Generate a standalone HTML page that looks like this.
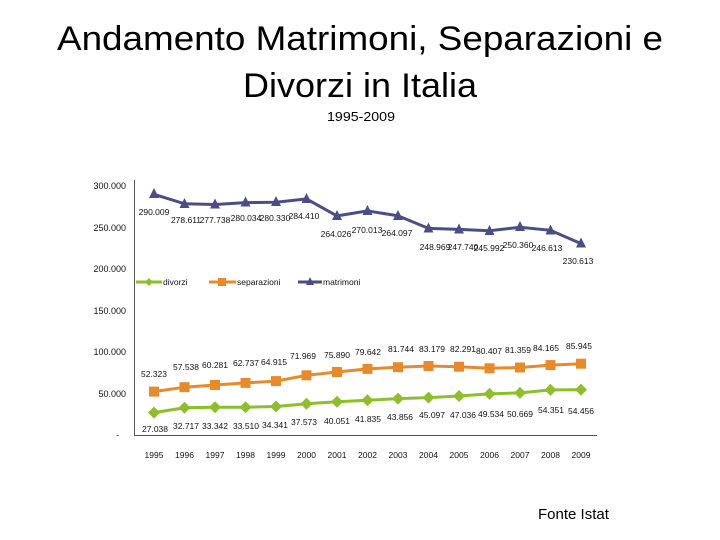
<!DOCTYPE html>
<html><head><meta charset="utf-8"><style>
html,body{margin:0;padding:0;background:#fff;}
svg{display:block;}
</style></head><body>
<svg width="720" height="540" viewBox="0 0 720 540" xmlns="http://www.w3.org/2000/svg" font-family="Liberation Sans, sans-serif">
<text x="360" y="50" font-size="34" text-anchor="middle" textLength="606" lengthAdjust="spacingAndGlyphs" fill="#000">Andamento Matrimoni, Separazioni e</text>
<text x="360" y="97" font-size="34" text-anchor="middle" textLength="234" lengthAdjust="spacingAndGlyphs" fill="#000">Divorzi in Italia</text>
<text x="361" y="121" font-size="13" text-anchor="middle" textLength="68" lengthAdjust="spacingAndGlyphs" fill="#000">1995-2009</text>
<text x="538" y="519" font-size="15" fill="#000">Fonte Istat</text>

<!-- axes -->
<line x1="134.5" y1="180" x2="134.5" y2="435" stroke="#555" stroke-width="1"/>
<line x1="134" y1="435.5" x2="597" y2="435.5" stroke="#555" stroke-width="1"/>
<g font-size="9" fill="#111" text-anchor="end">
<text x="126" y="189">300.000</text>
<text x="126" y="231">250.000</text>
<text x="126" y="272">200.000</text>
<text x="126" y="314">150.000</text>
<text x="126" y="355">100.000</text>
<text x="126" y="397">50.000</text>
<text x="119" y="438">-</text>
</g>
<g font-size="8.5" fill="#111" text-anchor="middle">
<text x="154" y="458">1995</text><text x="184.5" y="458">1996</text><text x="215" y="458">1997</text><text x="245.5" y="458">1998</text><text x="276" y="458">1999</text><text x="306.5" y="458">2000</text><text x="337" y="458">2001</text><text x="367.5" y="458">2002</text><text x="398" y="458">2003</text><text x="428.5" y="458">2004</text><text x="459" y="458">2005</text><text x="489.5" y="458">2006</text><text x="520" y="458">2007</text><text x="550.5" y="458">2008</text><text x="581" y="458">2009</text>
</g>

<!-- matrimoni -->
<polyline fill="none" stroke="#4b4e86" stroke-width="3" points="154,194.3 184.5,203.8 215,204.5 245.5,202.6 276,202.3 306.5,198.9 337,215.9 367.5,210.9 398,215.8 428.5,228.4 459,229.4 489.5,230.8 520,227.2 550.5,230.3 581,243.6"/>
<g fill="#4b4e86">
<polygon points="154,188 149,198 159,198"/><polygon points="184.5,198 179.5,208 189.5,208"/><polygon points="215,198.5 210,208.5 220,208.5"/><polygon points="245.5,196.5 240.5,206.5 250.5,206.5"/><polygon points="276,196 271,206 281,206"/><polygon points="306.5,193 301.5,203 311.5,203"/><polygon points="337,210 332,220 342,220"/><polygon points="367.5,205 362.5,215 372.5,215"/><polygon points="398,210 393,220 403,220"/><polygon points="428.5,222.5 423.5,232.5 433.5,232.5"/><polygon points="459,223.5 454,233.5 464,233.5"/><polygon points="489.5,225 484.5,235 494.5,235"/><polygon points="520,221 515,231 525,231"/><polygon points="550.5,224.5 545.5,234.5 555.5,234.5"/><polygon points="581,237.5 576,247.5 586,247.5"/>
</g>
<g font-size="8.5" fill="#111" text-anchor="middle">
<text x="154" y="215">290.009</text><text x="186" y="223">278.611</text><text x="215" y="223">277.738</text><text x="246" y="221">280.034</text><text x="275" y="221">280.330</text><text x="304" y="219">284.410</text><text x="336" y="237">264.026</text><text x="367" y="233">270.013</text><text x="397" y="236">264.097</text><text x="435" y="250">248.969</text><text x="463" y="250">247.740</text><text x="489" y="251">245.992</text><text x="518" y="248">250.360</text><text x="547" y="251">246.613</text><text x="578" y="264">230.613</text>
</g>

<!-- separazioni -->
<polyline fill="none" stroke="#e8892a" stroke-width="3" points="154,391.6 184.5,387.2 215,385 245.5,382.9 276,381.1 306.5,375.3 337,372 367.5,368.9 398,367.2 428.5,366 459,366.7 489.5,368.3 520,367.5 550.5,365.1 581,363.7"/>
<g fill="#e8892a">
<rect x="149" y="386.6" width="10" height="10"/><rect x="179.5" y="382.2" width="10" height="10"/><rect x="210" y="380" width="10" height="10"/><rect x="240.5" y="377.9" width="10" height="10"/><rect x="271" y="376.1" width="10" height="10"/><rect x="301.5" y="370.3" width="10" height="10"/><rect x="332" y="367" width="10" height="10"/><rect x="362.5" y="363.9" width="10" height="10"/><rect x="393" y="362.2" width="10" height="10"/><rect x="423.5" y="361" width="10" height="10"/><rect x="454" y="361.7" width="10" height="10"/><rect x="484.5" y="363.3" width="10" height="10"/><rect x="515" y="362.5" width="10" height="10"/><rect x="545.5" y="360.1" width="10" height="10"/><rect x="576" y="358.7" width="10" height="10"/>
</g>
<g font-size="8.5" fill="#111" text-anchor="middle">
<text x="154" y="377">52.323</text><text x="186" y="370">57.538</text><text x="215" y="368">60.281</text><text x="246" y="366">62.737</text><text x="274" y="365">64.915</text><text x="303" y="359">71.969</text><text x="337" y="358">75.890</text><text x="368" y="355">79.642</text><text x="401" y="352">81.744</text><text x="432" y="352">83.179</text><text x="463" y="352">82.291</text><text x="489" y="354">80.407</text><text x="518" y="353">81.359</text><text x="546" y="351">84.165</text><text x="579" y="349">85.945</text>
</g>

<!-- divorzi -->
<polyline fill="none" stroke="#8dbf2b" stroke-width="3" points="154,412.6 184.5,407.8 215,407.3 245.5,407.2 276,406.5 306.5,403.8 337,401.8 367.5,400.3 398,398.6 428.5,397.6 459,396 489.5,393.9 520,392.9 550.5,389.9 581,389.8"/>
<g fill="#8dbf2b">
<polygon points="154,406.6 160,412.6 154,418.6 148,412.6"/><polygon points="184.5,401.8 190.5,407.8 184.5,413.8 178.5,407.8"/><polygon points="215,401.3 221,407.3 215,413.3 209,407.3"/><polygon points="245.5,401.2 251.5,407.2 245.5,413.2 239.5,407.2"/><polygon points="276,400.5 282,406.5 276,412.5 270,406.5"/><polygon points="306.5,397.8 312.5,403.8 306.5,409.8 300.5,403.8"/><polygon points="337,395.8 343,401.8 337,407.8 331,401.8"/><polygon points="367.5,394.3 373.5,400.3 367.5,406.3 361.5,400.3"/><polygon points="398,392.6 404,398.6 398,404.6 392,398.6"/><polygon points="428.5,391.6 434.5,397.6 428.5,403.6 422.5,397.6"/><polygon points="459,390 465,396 459,402 453,396"/><polygon points="489.5,387.9 495.5,393.9 489.5,399.9 483.5,393.9"/><polygon points="520,386.9 526,392.9 520,398.9 514,392.9"/><polygon points="550.5,383.9 556.5,389.9 550.5,395.9 544.5,389.9"/><polygon points="581,383.8 587,389.8 581,395.8 575,389.8"/>
</g>
<g font-size="8.5" fill="#111" text-anchor="middle">
<text x="155" y="432">27.038</text><text x="186" y="429">32.717</text><text x="215" y="429">33.342</text><text x="246" y="429">33.510</text><text x="275" y="428">34.341</text><text x="304" y="425">37.573</text><text x="337" y="424">40.051</text><text x="368" y="422">41.835</text><text x="400" y="420">43.856</text><text x="432" y="418">45.097</text><text x="463" y="418">47.036</text><text x="491" y="417">49.534</text><text x="520" y="417">50.669</text><text x="551" y="413">54.351</text><text x="581" y="414">54.456</text>
</g>

<!-- legend -->
<line x1="136" y1="282" x2="162" y2="282" stroke="#8dbf2b" stroke-width="3"/>
<polygon points="149,278 153,282 149,286 145,282" fill="#8dbf2b"/>
<text x="163" y="285" font-size="8.5" fill="#111">divorzi</text>
<line x1="209" y1="282" x2="236" y2="282" stroke="#e8892a" stroke-width="3"/>
<rect x="218" y="278" width="8" height="8" fill="#e8892a"/>
<text x="237" y="285" font-size="8.5" fill="#111">separazioni</text>
<line x1="298" y1="282" x2="322" y2="282" stroke="#4b4e86" stroke-width="3"/>
<polygon points="310,277 306,285 314,285" fill="#4b4e86"/>
<text x="323" y="285" font-size="8.5" fill="#111">matrimoni</text>
</svg>
</body></html>
